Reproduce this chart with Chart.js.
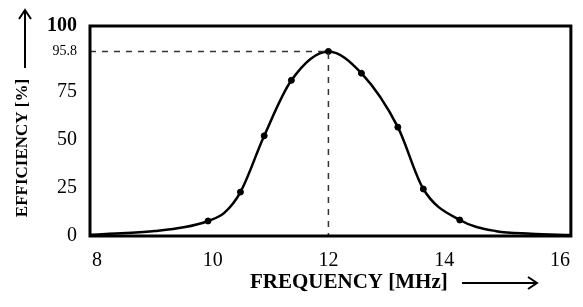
<!DOCTYPE html>
<html lang="en">
<head>
    <meta charset="UTF-8">
    <title>Efficiency vs Frequency</title>
    <script src="https://cdn.jsdelivr.net/npm/chart.js"></script>
    <style>
        body {
            margin: 0;
            background: #fff;
        }
        .chart-container {
            width: 583px;
            height: 307px;
        }
    </style>
</head>
<body>
<div class="chart-container">
    <canvas id="efficiencyChart" width="583" height="307"></canvas>
</div>

<script>
    // measured points (dots)
    const markerFreq = [9.92, 10.48, 10.89, 11.36, 12.0, 12.57, 13.2, 13.64, 14.27];
    const markerEff = [7.8, 22.8, 52, 80.8, 95.8, 84.5, 56.5, 24.4, 8.3];

    // fitted curve
    const curveFreq = [7.88, 8.5, 9.0, 9.5, 9.92, 10.2, 10.48, 10.89, 11.36, 12.0, 12.57, 13.2, 13.64, 14.27, 14.9, 15.5, 16.19];
    const curveEff = [0.6, 1.5, 2.6, 4.5, 7.8, 12, 22.8, 52, 80.8, 95.8, 84.5, 56.5, 24.4, 8.3, 2.5, 1.2, 0.5];

    const peakFreq = 12;
    const peakEff = 95.8;

    const freqTicks = [8, 10, 12, 14, 16];
    const effTickValues = [0, 25, 50, 75, 95.8, 109];
    const effTickLabels = ['0', '25', '50', '75', '95.8', '100'];

    const xMin = 7.88, xMax = 16.19;
    const yMin = 0, yMax = 109;

    const serif = '"Liberation Serif", "Times New Roman", serif';

    const framePlugin = {
        id: 'frame',
        afterDraw(chart) {
            const ctx = chart.ctx;
            const a = chart.chartArea;
            ctx.save();
            ctx.strokeStyle = '#000';
            ctx.lineWidth = 3;
            ctx.strokeRect(a.left, a.top, a.right - a.left, a.bottom - a.top);

            // axis titles with arrows
            ctx.fillStyle = '#000';
            ctx.textBaseline = 'middle';

            ctx.font = 'bold 21px ' + serif;
            ctx.textAlign = 'left';
            ctx.fillText('FREQUENCY [MHz]', 250, 283);

            ctx.lineWidth = 2;
            ctx.beginPath();
            ctx.moveTo(462, 283);
            ctx.lineTo(536, 283);
            ctx.moveTo(528, 277);
            ctx.lineTo(537, 283);
            ctx.lineTo(528, 289);
            ctx.stroke();

            ctx.font = 'bold 17px ' + serif;
            ctx.save();
            ctx.translate(23, 148);
            ctx.rotate(-Math.PI / 2);
            ctx.textAlign = 'center';
            ctx.fillText('EFFICIENCY [%]', 0, 0);
            ctx.restore();

            ctx.beginPath();
            ctx.moveTo(25, 68);
            ctx.lineTo(25, 11);
            ctx.moveTo(19, 19);
            ctx.lineTo(25, 10);
            ctx.lineTo(31, 19);
            ctx.stroke();
            ctx.restore();
        }
    };

    const ctx = document.getElementById('efficiencyChart').getContext('2d');

    new Chart(ctx, {
        type: 'scatter',
        data: {
            datasets: [
                {
                    label: 'guide',
                    data: [{x: xMin, y: peakEff}, {x: peakFreq, y: peakEff}, {x: peakFreq, y: 0}],
                    showLine: true,
                    borderColor: '#333',
                    borderWidth: 1.5,
                    borderDash: [6, 6],
                    pointRadius: 0
                },
                {
                    label: 'curve',
                    data: curveFreq.map((f, i) => ({x: f, y: curveEff[i]})),
                    showLine: true,
                    borderColor: '#000',
                    borderWidth: 2.5,
                    cubicInterpolationMode: 'monotone',
                    pointRadius: 0
                },
                {
                    label: 'measured',
                    data: markerFreq.map((f, i) => ({x: f, y: markerEff[i]})),
                    backgroundColor: '#000',
                    borderColor: '#000',
                    pointRadius: 3
                }
            ]
        },
        options: {
            responsive: false,
            animation: false,
            layout: {
                padding: {left: 0, right: 4, top: 26, bottom: 0}
            },
            plugins: {
                legend: {display: false},
                tooltip: {enabled: false}
            },
            scales: {
                x: {
                    type: 'linear',
                    min: xMin,
                    max: xMax,
                    grid: {display: false, drawTicks: false},
                    border: {display: false},
                    afterBuildTicks: (scale) => {
                        scale.ticks = freqTicks.map(v => ({value: v}));
                    },
                    afterFit: (scale) => {
                        scale.height = 71;
                    },
                    ticks: {
                        padding: 13,
                        color: '#000',
                        font: {family: serif, size: 20},
                        callback: (v) => String(v)
                    }
                },
                y: {
                    type: 'linear',
                    min: yMin,
                    max: yMax,
                    grid: {display: false, drawTicks: false},
                    border: {display: false},
                    afterBuildTicks: (scale) => {
                        scale.ticks = effTickValues.map(v => ({value: v}));
                    },
                    afterFit: (scale) => {
                        scale.width = 90;
                    },
                    ticks: {
                        padding: 13,
                        color: '#000',
                        font: (c) => (c.tick && c.tick.value === 95.8)
                            ? {family: serif, size: 14}
                            : {family: serif, size: 20, weight: c.tick && c.tick.value === 109 ? 'bold' : 'normal'},
                        callback: (v) => effTickLabels[effTickValues.indexOf(v)]
                    }
                }
            }
        },
        plugins: [framePlugin]
    });
</script>
</body>
</html>
